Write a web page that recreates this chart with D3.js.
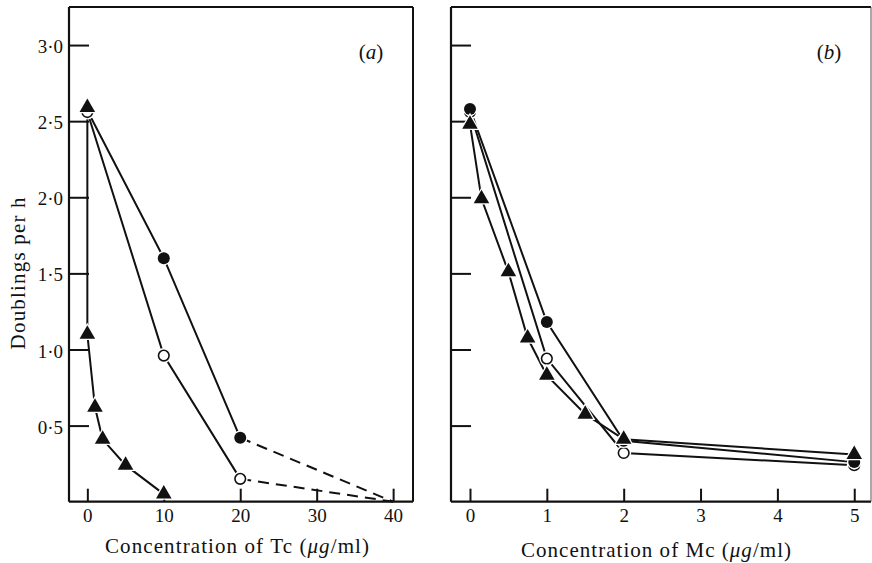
<!DOCTYPE html>
<html>
<head>
<meta charset="utf-8">
<script src="https://cdn.jsdelivr.net/npm/d3@7"></script>
<style>
  html, body { margin: 0; padding: 0; background: #fff; }
  svg { display: block; }
  text { font-family: "Liberation Serif", "Times New Roman", serif; fill: #111; }
</style>
</head>
<body>
<svg id="chart" width="872" height="563"></svg>
<script>
// ---------------- data ----------------
const yTickValues = [0.5, 1.0, 1.5, 2.0, 2.5, 3.0];
const yTickLabels = ["0·5", "1·0", "1·5", "2·0", "2·5", "3·0"];
const tcTicks = [0, 10, 20, 30, 40];
const mcTicks = [0, 1, 2, 3, 4, 5];

// Panel (a): tetracycline
const aFilledSolid = [[0, 2.57], [10, 1.60], [20, 0.42]];
const aFilledDashed = [[20, 0.42], [40, 0.0]];
const aOpenSolid = [[0, 2.56], [10, 0.96], [20, 0.15]];
const aOpenDashed = [[20, 0.15], [40, 0.0]];
const aTriangle = [[0, 2.59], [0, 1.10], [1, 0.62], [2, 0.41], [5, 0.24], [10, 0.05]];

// Panel (b): Mc
const bFilled = [[0, 2.58], [1, 1.18], [2, 0.40], [5, 0.26]];
const bOpen = [[0, 2.56], [1, 0.94], [2, 0.32], [5, 0.24]];
const bTriangle = [[0, 2.48], [0.15, 1.99], [0.5, 1.51], [0.75, 1.075], [1, 0.83], [1.5, 0.575], [2, 0.41], [5, 0.31]];

// ---------------- layout ----------------
const svg = d3.select("#chart");
const frameTop = 7, frameBottom = 501.7;
const y = d3.scaleLinear().domain([0, 3.25]).range([frameBottom, frameTop]);
const xA = d3.scaleLinear().domain([-2.4, 42.6]).range([69, 413]);
const xB = d3.scaleLinear().domain([-0.247, 5.218]).range([451, 871]);

function panel(x, ticks, showYLabels, label, xTitle, titleX, titleY, titleLen, rightFaint) {
  const g = svg.append("g");
  const [x0, x1] = x.range();
  // frame
  g.append("line").attr("x1", x0).attr("x2", x1).attr("y1", frameTop).attr("y2", frameTop)
    .attr("stroke", "#111").attr("stroke-width", 2);
  g.append("line").attr("x1", x0).attr("x2", x1).attr("y1", frameBottom).attr("y2", frameBottom)
    .attr("stroke", "#111").attr("stroke-width", 2.2);
  g.append("line").attr("x1", x0).attr("x2", x0).attr("y1", frameTop).attr("y2", frameBottom)
    .attr("stroke", "#111").attr("stroke-width", 2.2);
  g.append("line").attr("x1", x1).attr("x2", x1).attr("y1", frameTop).attr("y2", frameBottom)
    .attr("stroke", rightFaint ? "#555" : "#111").attr("stroke-width", rightFaint ? 1 : 2);

  // y axis
  const ya = d3.axisLeft(y).tickValues(yTickValues)
    .tickFormat((d, i) => showYLabels ? yTickLabels[i] : "")
    .tickSize(-20).tickPadding(6);
  const yg = g.append("g").attr("transform", `translate(${x0},0)`).call(ya);
  yg.select(".domain").remove();
  yg.selectAll(".tick line").attr("stroke", "#111").attr("stroke-width", 2);
  yg.selectAll(".tick text").attr("font-size", 19).attr("dy", "0.4em")
    .style("font-family", "Liberation Serif").attr("fill", "#111");

  // x axis
  const xa = d3.axisBottom(x).tickValues(ticks).tickFormat(d3.format("d"))
    .tickSize(-13).tickPadding(7);
  const xg = g.append("g").attr("transform", `translate(0,${frameBottom})`).call(xa);
  xg.select(".domain").remove();
  xg.selectAll(".tick line").attr("stroke", "#111").attr("stroke-width", 2);
  xg.selectAll(".tick text").attr("font-size", 19)
    .style("font-family", "Liberation Serif").attr("fill", "#111");

  // panel label
  const pl = g.append("text").attr("x", x1 - 42).attr("y", 59).attr("text-anchor", "middle")
    .attr("font-size", 21);
  pl.append("tspan").text("(");
  pl.append("tspan").attr("font-style", "italic").text(label);
  pl.append("tspan").text(")");

  // x title
  const t = g.append("text").attr("x", titleX).attr("y", titleY)
    .attr("text-anchor", "middle").attr("font-size", 21)
    .attr("textLength", titleLen).attr("lengthAdjust", "spacing");
  t.append("tspan").text(xTitle + " (");
  t.append("tspan").attr("font-style", "italic").text("μg");
  t.append("tspan").text("/ml)");
  return g;
}

const gA = panel(xA, tcTicks, true, "a", "Concentration of Tc", 237, 553, 264, false);
const gB = panel(xB, mcTicks, false, "b", "Concentration of Mc", 656, 557, 270, true);

// y title
svg.append("text")
  .attr("transform", `translate(25, ${(y(1.0) + y(2.0)) / 2}) rotate(-90)`)
  .attr("text-anchor", "middle").attr("font-size", 21)
  .attr("textLength", 152).attr("lengthAdjust", "spacing")
  .text("Doublings per h");

// ---------------- marks ----------------
function drawLine(g, x, data, dashed) {
  const line = d3.line().x(d => x(d[0])).y(d => y(d[1]));
  g.append("path").datum(data).attr("d", line)
    .attr("fill", "none").attr("stroke", "#111").attr("stroke-width", 2)
    .attr("stroke-dasharray", dashed ? "11,7" : null);
}
const triSym = d3.symbol().type(d3.symbolTriangle).size(105);
function drawTri(g, x, data) {
  g.selectAll(null).data(data).enter().append("path")
    .attr("d", triSym)
    .attr("transform", d => `translate(${x(d[0])},${y(d[1])})`)
    .attr("fill", "#111").attr("stroke", "#fff").attr("stroke-width", 2.5)
    .attr("paint-order", "stroke");
}
function drawFilled(g, x, data) {
  g.selectAll(null).data(data).enter().append("circle")
    .attr("cx", d => x(d[0])).attr("cy", d => y(d[1])).attr("r", 6)
    .attr("fill", "#111").attr("stroke", "#fff").attr("stroke-width", 2.5)
    .attr("paint-order", "stroke");
}
function drawOpen(g, x, data) {
  g.selectAll(null).data(data).enter().append("circle")
    .attr("cx", d => x(d[0])).attr("cy", d => y(d[1])).attr("r", 7.5)
    .attr("fill", "#fff").attr("stroke", "none");
  g.selectAll(null).data(data).enter().append("circle")
    .attr("cx", d => x(d[0])).attr("cy", d => y(d[1])).attr("r", 5.3)
    .attr("fill", "#fff").attr("stroke", "#111").attr("stroke-width", 1.6);
}

// panel a
drawLine(gA, xA, aFilledSolid, false);
drawLine(gA, xA, aFilledDashed, true);
drawLine(gA, xA, aOpenSolid, false);
drawLine(gA, xA, aOpenDashed, true);
drawLine(gA, xA, aTriangle, false);
drawFilled(gA, xA, aFilledSolid);
drawOpen(gA, xA, aOpenSolid);
drawTri(gA, xA, aTriangle);

// panel b
drawLine(gB, xB, bFilled, false);
drawLine(gB, xB, bOpen, false);
drawLine(gB, xB, bTriangle, false);
drawOpen(gB, xB, bOpen);
drawFilled(gB, xB, bFilled);
drawTri(gB, xB, bTriangle);
</script>
</body>
</html>
